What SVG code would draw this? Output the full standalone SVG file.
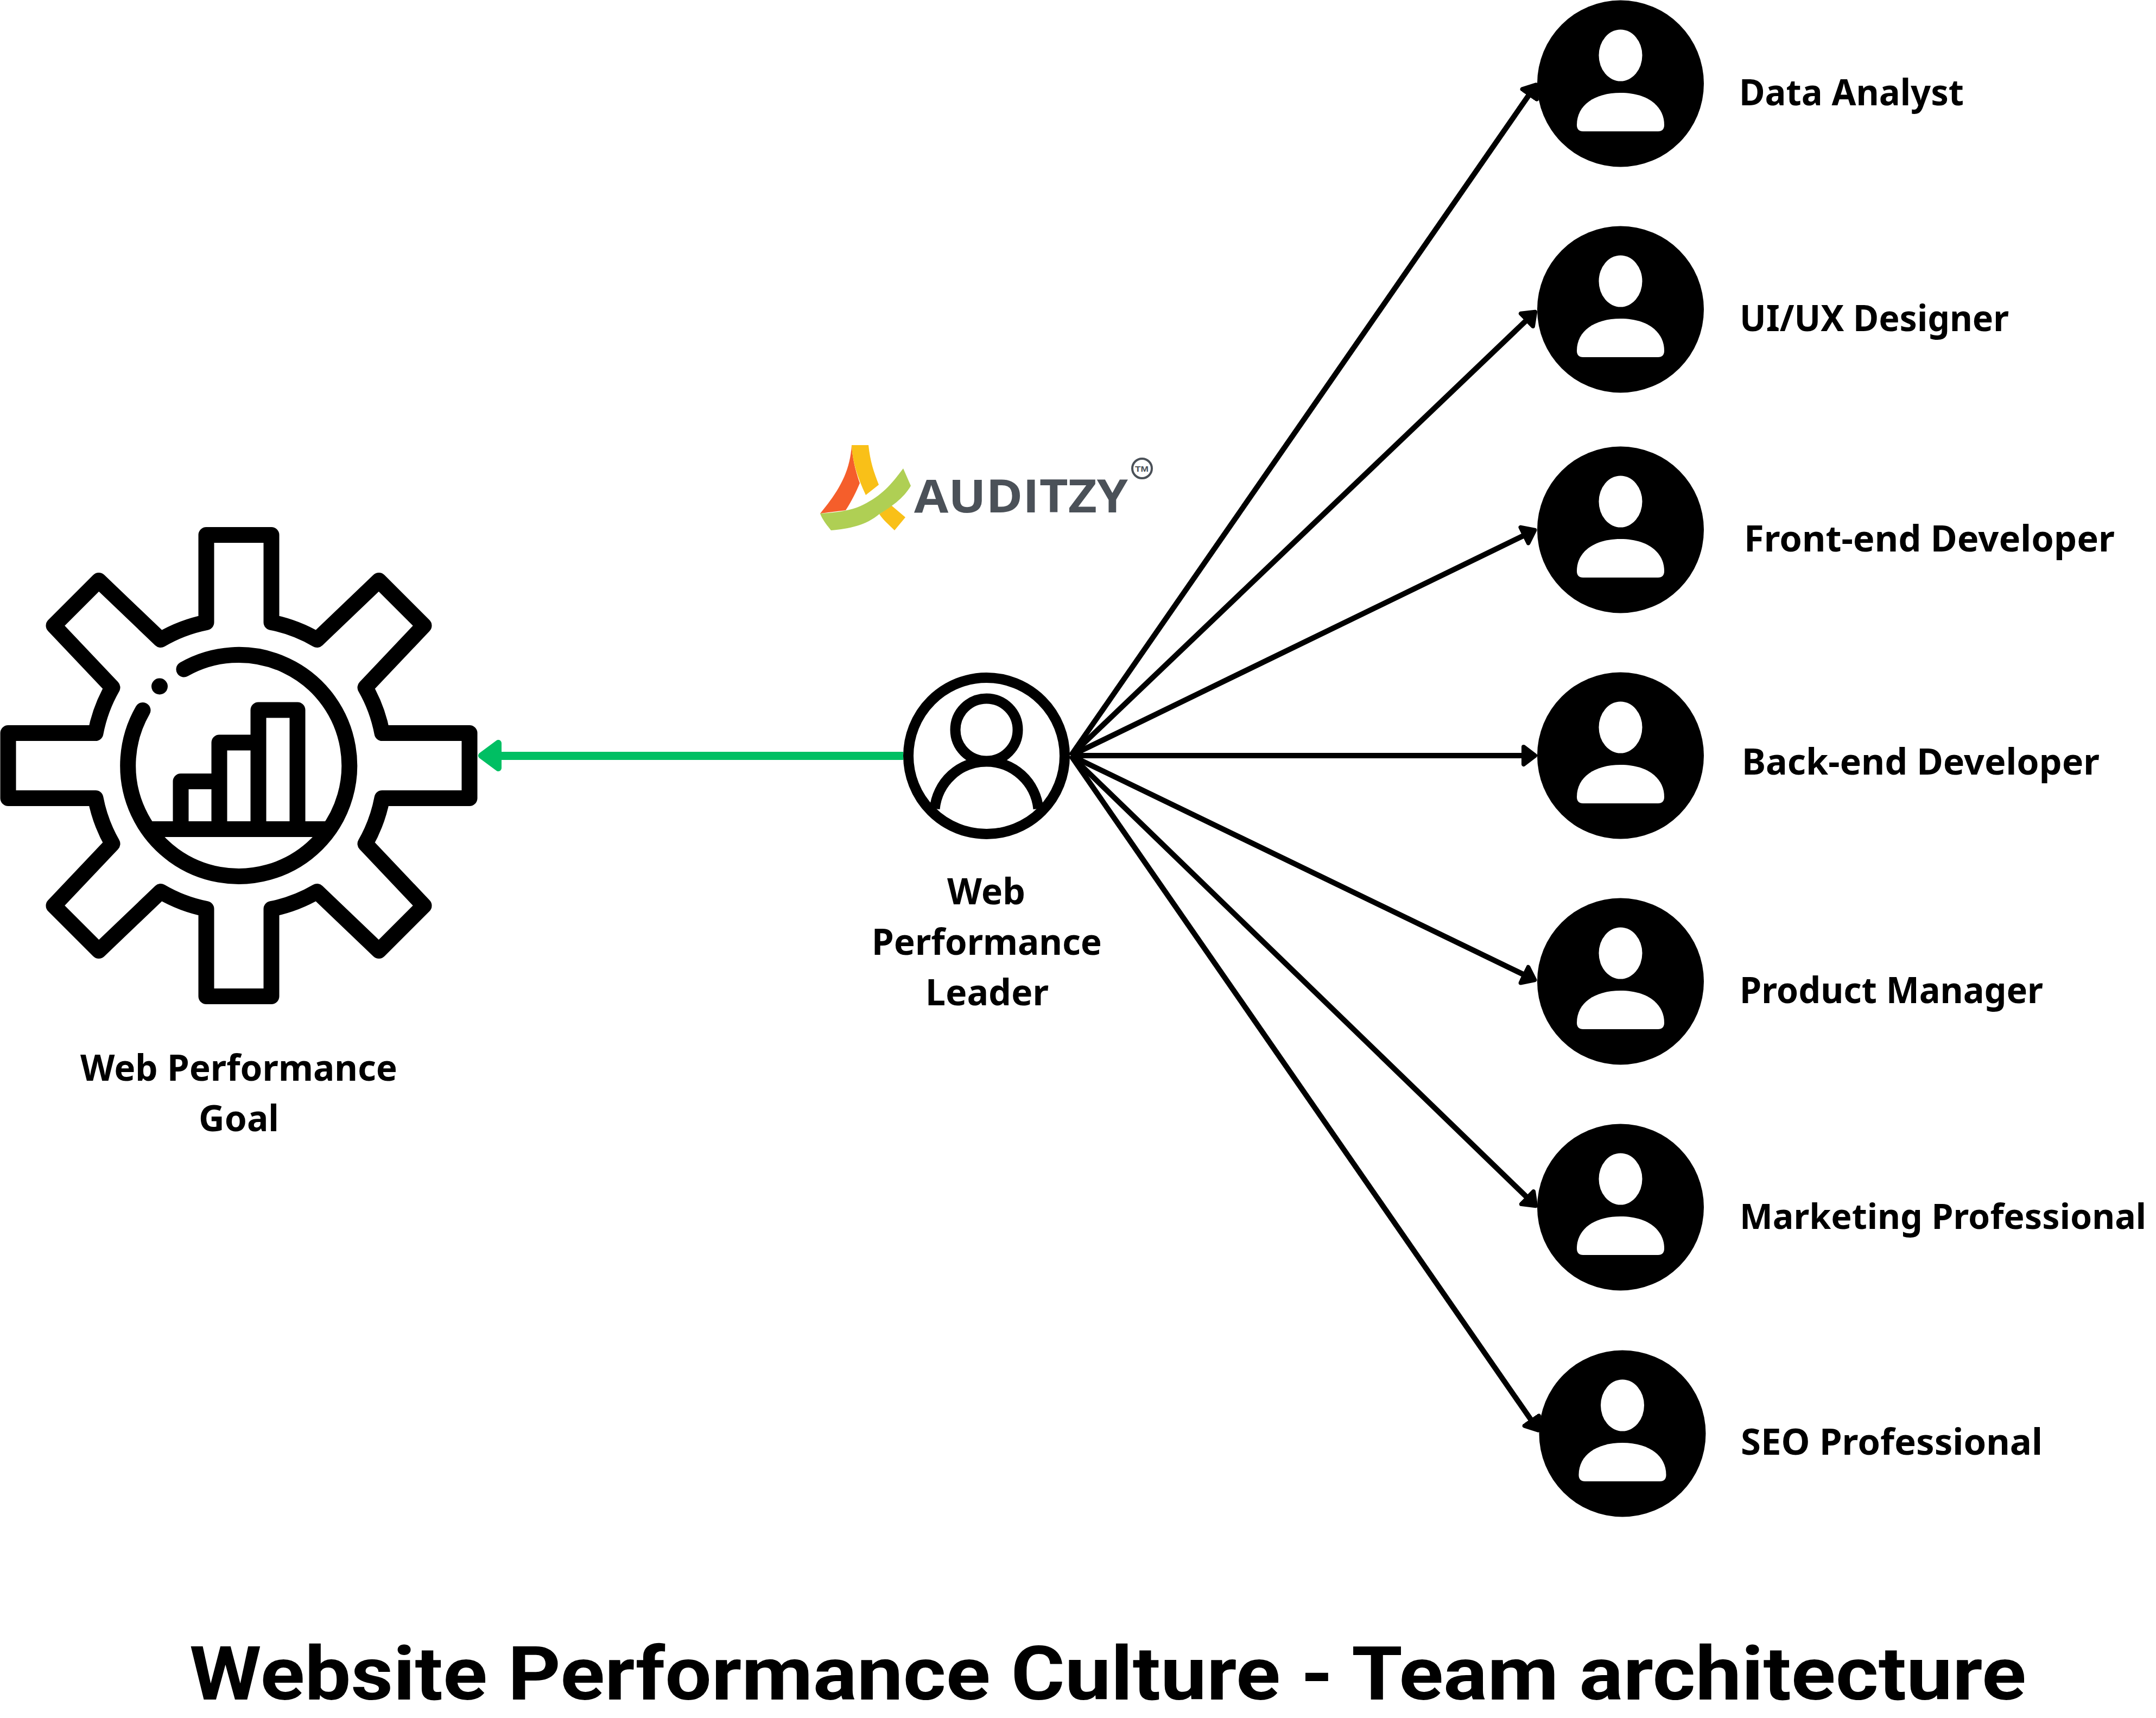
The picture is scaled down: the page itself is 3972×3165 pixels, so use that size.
<svg xmlns="http://www.w3.org/2000/svg" width="3972" height="3165" viewBox="0 0 3972 3165">
<defs>
<style>
.i{fill:none;stroke:#000;stroke-width:29;stroke-linejoin:round;stroke-linecap:round}
.c{fill:none;stroke:#000;stroke-width:10}
.t{font-family:"Noto Sans","Liberation Sans",sans-serif;font-weight:700;fill:#000}
.l{font-size:67px}
</style>
<marker id="a" markerUnits="userSpaceOnUse" markerWidth="32" markerHeight="44" refX="14" refY="22" orient="auto"><path d="M4,6 L25,22 L4,38 Z" fill="#000" stroke="#000" stroke-width="8" stroke-linejoin="round"/></marker>
<g id="p"><circle r="153.5" fill="#000"/><ellipse cx="0" cy="-52" rx="40" ry="47.500" fill="#fff"/><path d="M-69,88 H69 Q80.500,88 80.500,76 C80.500,40 48,17 0,17 C-48,17 -80.500,40 -80.500,76 Q-80.500,88 -69,88 Z" fill="#fff"/></g>
</defs>
<rect width="3972" height="3165" fill="#fff"/>
<g id="connectors">
<path d="M1664,1392.500 H910" fill="none" stroke="#00bf63" stroke-width="15"/>
<path d="M887,1392 L918,1369 V1415 Z" fill="#00bf63" stroke="#00bf63" stroke-width="12" stroke-linejoin="round"/>
<line class="c" x1="1973" y1="1392" x2="2823.500" y2="165.300" marker-end="url(#a)"/>
<line class="c" x1="1973" y1="1392" x2="2820.200" y2="582.400" marker-end="url(#a)"/>
<line class="c" x1="1973" y1="1392" x2="2817.500" y2="981.600" marker-end="url(#a)"/>
<line class="c" x1="1973" y1="1392" x2="2817" y2="1392" marker-end="url(#a)"/>
<line class="c" x1="1973" y1="1392" x2="2817.500" y2="1800.500" marker-end="url(#a)"/>
<line class="c" x1="1973" y1="1392" x2="2821.200" y2="2213.600" marker-end="url(#a)"/>
<line class="c" x1="1973" y1="1392" x2="2827.500" y2="2625.700" marker-end="url(#a)"/>
</g>
<g id="goal"><g transform="translate(440,1410.500)">
<path class="i" d="M-60,-264 V-425 H60 V-264 A270,270 0 0 1 144,-232 L258,-341 L341,-258 L233,-144 A270,270 0 0 1 264,-60 H425 V60 H264 A270,270 0 0 1 233,144 L341,258 L258,341 L144,232 A270,270 0 0 1 60,264 V425 H-60 V264 A270,270 0 0 1 -144,232 L-258,341 L-341,258 L-233,144 A270,270 0 0 1 -264,60 H-425 V-60 H-264 A270,270 0 0 1 -233,-144 L-341,-258 L-258,-341 L-144,-232 A270,270 0 0 1 -60,-264 Z"/>
<path class="i" d="M-101,-177.500 A204,204 0 1 1 -177,-102"/>
<circle cx="-146" cy="-146" r="15"/>
<path class="i" style="stroke-linecap:butt" d="M-168,117 H168 M-107,117 V29 H-36 V117 M-36,29 V-42.500 H36 V117 M36,-42.500 V-102.500 H108 V117"/>
</g>
<text class="t l" x="148" y="1991" textLength="584" lengthAdjust="spacingAndGlyphs">Web Performance</text>
<text class="t l" x="366" y="2084" textLength="148" lengthAdjust="spacingAndGlyphs">Goal</text>
</g>
<g id="logo">
<path d="M1569,820 C1566,870 1545,905 1511,946 L1558,940 C1568,925 1578,905 1584,890 C1575,865 1570,840 1569,820 Z" fill="#f55e2b"/>
<path d="M1569,820 H1600 C1603,850 1610,870 1619,893 L1595,912 C1580,880 1570,850 1569,820 Z" fill="#f9c018"/>
<path d="M1642,931 L1668,953 L1648,977 C1637,966 1627,958 1620,947 Z" fill="#f9c018"/>
<path d="M1511,946 C1550,944 1575,938 1590,930 C1625,912 1640,895 1664,863 L1678,895 C1665,918 1640,935 1620,947 C1595,968 1565,974 1531,977 C1522,966 1514,955 1511,946 Z" fill="#afcf54"/>
<text x="1684" y="944" font-family="'Open Sans','Liberation Sans',sans-serif" font-weight="700" font-size="84" fill="#4b5158" textLength="394" lengthAdjust="spacingAndGlyphs">AUDITZY</text>
<circle cx="2104" cy="863" r="18" fill="none" stroke="#4b5158" stroke-width="4"/>
<text x="2091" y="869" font-family="'Liberation Sans',sans-serif" font-weight="700" font-size="15" fill="#4b5158" textLength="25" lengthAdjust="spacingAndGlyphs">TM</text>
</g>
<g id="leader">
<circle cx="1817.500" cy="1392.500" r="144" fill="#fff" stroke="#000" stroke-width="19"/>
<circle cx="1817.500" cy="1344.500" r="57.500" fill="none" stroke="#000" stroke-width="19"/>
<path d="M1722,1490 A96,97 0 0 1 1913,1490" fill="none" stroke="#000" stroke-width="19"/>
<text class="t l" x="1745" y="1666" textLength="144" lengthAdjust="spacingAndGlyphs">Web</text>
<text class="t l" x="1606" y="1758.500" textLength="424" lengthAdjust="spacingAndGlyphs">Performance</text>
<text class="t l" x="1705" y="1852" textLength="227" lengthAdjust="spacingAndGlyphs">Leader</text>
</g>
<g id="data-analyst"><use href="#p" x="2985.500" y="154"/><text class="t l" x="3204" y="194" textLength="414" lengthAdjust="spacingAndGlyphs">Data Analyst</text></g>
<g id="designer"><use href="#p" x="2985.500" y="570"/><text class="t l" x="3205" y="610" textLength="496" lengthAdjust="spacingAndGlyphs">UI/UX Designer</text></g>
<g id="frontend"><use href="#p" x="2985.500" y="976"/><text class="t l" x="3213" y="1016" textLength="683" lengthAdjust="spacingAndGlyphs">Front-end Developer</text></g>
<g id="backend"><use href="#p" x="2985.500" y="1392"/><text class="t l" x="3209" y="1427" textLength="659" lengthAdjust="spacingAndGlyphs">Back-end Developer</text></g>
<g id="pm"><use href="#p" x="2985.500" y="1808"/><text class="t l" x="3205" y="1848" textLength="559" lengthAdjust="spacingAndGlyphs">Product Manager</text></g>
<g id="marketing"><use href="#p" x="2985.500" y="2224"/><text class="t" font-size="64" x="3205" y="2264" textLength="749" lengthAdjust="spacingAndGlyphs">Marketing Professional</text></g>
<g id="seo"><use href="#p" x="2989" y="2641"/><text class="t l" x="3207" y="2680" textLength="556" lengthAdjust="spacingAndGlyphs">SEO Professional</text></g>
<text id="title" class="t" style="font-family:Roboto,'Liberation Sans',sans-serif" x="349" y="3131" font-size="137" textLength="3384" lengthAdjust="spacingAndGlyphs">Website Performance Culture - Team architecture</text>
</svg>
